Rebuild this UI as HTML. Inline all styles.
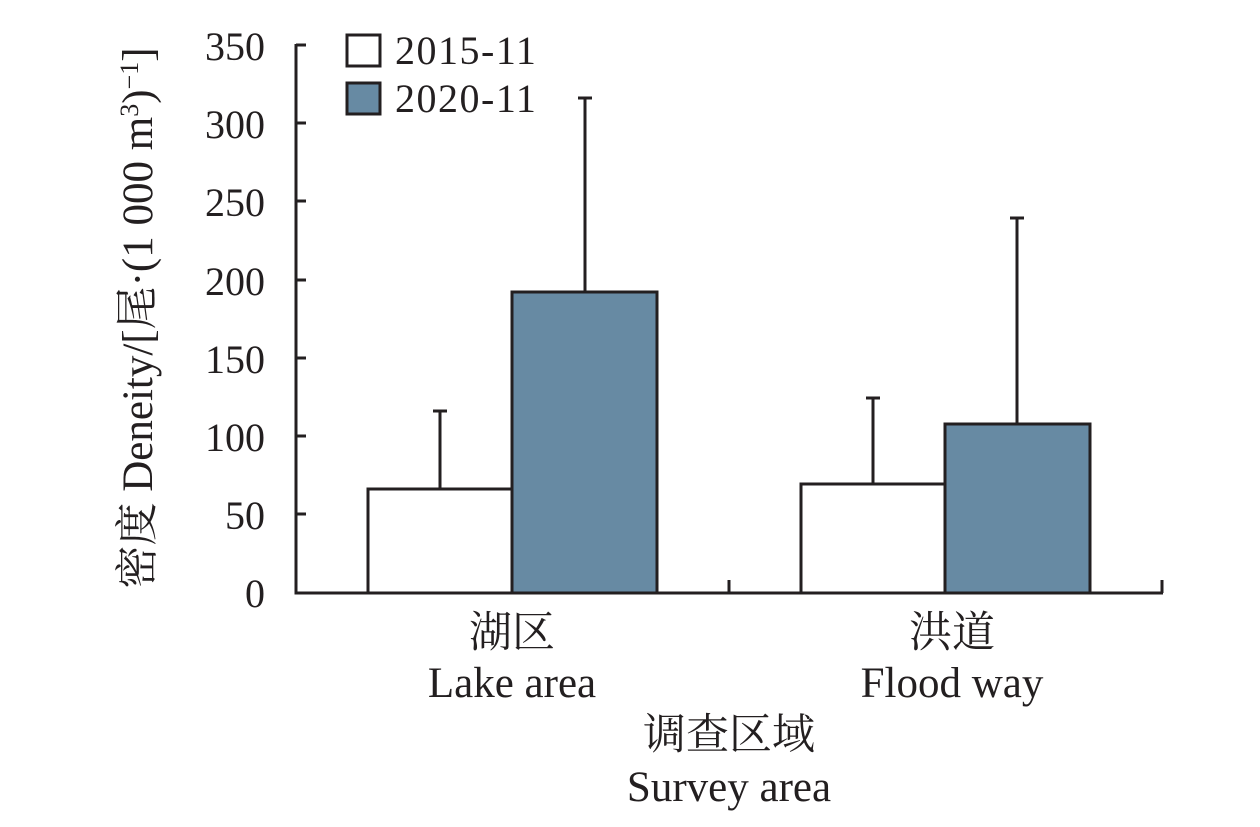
<!DOCTYPE html>
<html><head><meta charset="utf-8"><style>
body{margin:0;background:#fff;}
svg text{font-family:"Liberation Serif","Noto Serif CJK SC",serif;fill:#231f20;}
</style></head><body>
<svg width="1260" height="822" viewBox="0 0 1260 822" xmlns="http://www.w3.org/2000/svg">
<g stroke="#231f20" stroke-width="3" fill="none">
<line x1="296" y1="44" x2="296" y2="593"/>
<line x1="294.5" y1="593" x2="1163" y2="593"/>
<line x1="296" y1="45" x2="306" y2="45"/>
<line x1="296" y1="123" x2="306" y2="123"/>
<line x1="296" y1="201" x2="306" y2="201"/>
<line x1="296" y1="280" x2="306" y2="280"/>
<line x1="296" y1="358" x2="306" y2="358"/>
<line x1="296" y1="436" x2="306" y2="436"/>
<line x1="296" y1="514" x2="306" y2="514"/>
<line x1="729" y1="593" x2="729" y2="580"/>
<line x1="1162" y1="593" x2="1162" y2="580"/>
<line x1="440" y1="489" x2="440" y2="411"/><line x1="433" y1="411" x2="447" y2="411"/>
<line x1="585" y1="292" x2="585" y2="98"/><line x1="578" y1="98" x2="592" y2="98"/>
<line x1="873" y1="484" x2="873" y2="398"/><line x1="866" y1="398" x2="880" y2="398"/>
<line x1="1017" y1="424" x2="1017" y2="218"/><line x1="1010" y1="218" x2="1024" y2="218"/>
<rect x="368" y="489" width="144" height="104" fill="#fff"/>
<rect x="512" y="292" width="145" height="301" fill="#678aa3"/>
<rect x="801" y="484" width="144" height="109" fill="#fff"/>
<rect x="945" y="424" width="145" height="169" fill="#678aa3"/>
<rect x="347" y="35" width="33" height="31" fill="#fff"/>
<rect x="347" y="83" width="33" height="31" fill="#678aa3"/>
</g>
<g font-size="40" text-anchor="end">
<text x="265" y="60">350</text>
<text x="265" y="138">300</text>
<text x="265" y="216">250</text>
<text x="265" y="295">200</text>
<text x="265" y="373">150</text>
<text x="265" y="451">100</text>
<text x="265" y="529">50</text>
<text x="265" y="607">0</text>
</g>
<g font-size="40" letter-spacing="1.5">
<text x="395" y="64">2015-11</text>
<text x="395" y="112">2020-11</text>
</g>
<g font-size="43" text-anchor="middle">
<text x="512" y="647">湖区</text>
<text x="512" y="697">Lake area</text>
<text x="952" y="647">洪道</text>
<text x="952" y="697">Flood way</text>
<text x="729" y="749">调查区域</text>
<text x="729" y="801">Survey area</text>
</g>
<text transform="translate(152,318) rotate(-90)" font-size="43" text-anchor="middle">密度 Deneity/[尾·(1 000 m<tspan font-size="26" dy="-14">3</tspan><tspan dy="14">)</tspan><tspan font-size="26" dy="-14">−1</tspan><tspan dy="14">]</tspan></text>
</svg>
</body></html>
